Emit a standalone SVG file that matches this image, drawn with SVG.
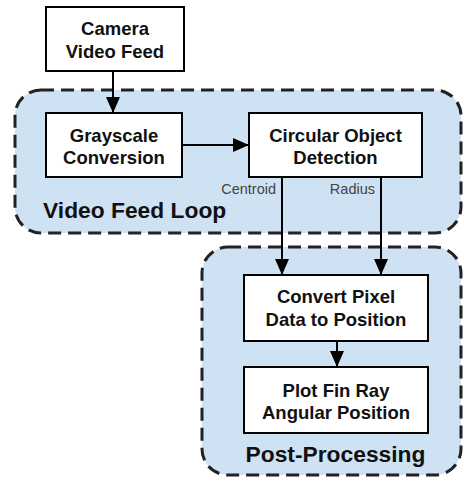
<svg xmlns="http://www.w3.org/2000/svg" width="464" height="481" viewBox="0 0 464 481">
  <style>
    .group { fill: #cfe2f3; stroke: #222; stroke-width: 3; stroke-dasharray: 13 7; }
    .box { fill: #fff; stroke: #000; stroke-width: 2; }
    .node-text { font-family: "Liberation Sans", Arial, sans-serif; font-weight: bold; font-size: 18.5px; fill: #111; text-anchor: middle; }
    .group-text { font-family: "Liberation Sans", Arial, sans-serif; font-weight: bold; font-size: 22.8px; fill: #111; }
    .edge { fill: none; stroke: #000; stroke-width: 2; }
    .edge-label { font-family: "Liberation Sans", Arial, sans-serif; font-size: 14.5px; fill: #444; text-anchor: end; }
  </style>
  <defs>
    <marker id="arrow" markerWidth="16" markerHeight="14" refX="16" refY="7" orient="auto" markerUnits="userSpaceOnUse">
      <path d="M0,0 L16,7 L0,14 Z" fill="#000"/>
    </marker>
  </defs>
  <rect width="464" height="481" fill="#fff"/>

  <!-- Containers -->
  <g id="video-feed-loop">
    <rect class="group" x="15" y="90" width="446" height="143" rx="26" ry="26"/>
    <text class="group-text" x="43" y="218">Video Feed Loop</text>
  </g>
  <g id="post-processing">
    <rect class="group" x="202" y="247" width="259" height="228" rx="26" ry="26"/>
    <text class="group-text" x="335.5" y="462" text-anchor="middle">Post-Processing</text>
  </g>

  <!-- Connectors -->
  <g id="connectors">
    <line class="edge" x1="113" y1="71" x2="113" y2="113" marker-end="url(#arrow)"/>
    <line class="edge" x1="182" y1="145" x2="249" y2="145" marker-end="url(#arrow)"/>
    <line class="edge" x1="282" y1="177" x2="282" y2="275" marker-end="url(#arrow)"/>
    <line class="edge" x1="381" y1="177" x2="381" y2="275" marker-end="url(#arrow)"/>
    <line class="edge" x1="337" y1="341" x2="337" y2="367" marker-end="url(#arrow)"/>
    <text class="edge-label" x="276" y="194">Centroid</text>
    <text class="edge-label" x="375" y="194">Radius</text>
  </g>

  <!-- Nodes -->
  <g id="camera-video-feed">
    <rect class="box" x="46" y="7" width="138" height="64"/>
    <text class="node-text" x="115" y="35">Camera</text>
    <text class="node-text" x="115" y="58">Video Feed</text>
  </g>
  <g id="grayscale-conversion">
    <rect class="box" x="46" y="113" width="136" height="64"/>
    <text class="node-text" x="114" y="142">Grayscale</text>
    <text class="node-text" x="114" y="164">Conversion</text>
  </g>
  <g id="circular-object-detection">
    <rect class="box" x="249" y="113" width="173" height="64"/>
    <text class="node-text" x="335.5" y="142">Circular Object</text>
    <text class="node-text" x="335.5" y="164">Detection</text>
  </g>
  <g id="convert-pixel-data">
    <rect class="box" x="244" y="275" width="184" height="66"/>
    <text class="node-text" x="336" y="303">Convert Pixel</text>
    <text class="node-text" x="336" y="326">Data to Position</text>
  </g>
  <g id="plot-fin-ray">
    <rect class="box" x="244" y="367" width="184" height="66"/>
    <text class="node-text" x="336" y="397">Plot Fin Ray</text>
    <text class="node-text" x="336" y="419">Angular Position</text>
  </g>
</svg>
